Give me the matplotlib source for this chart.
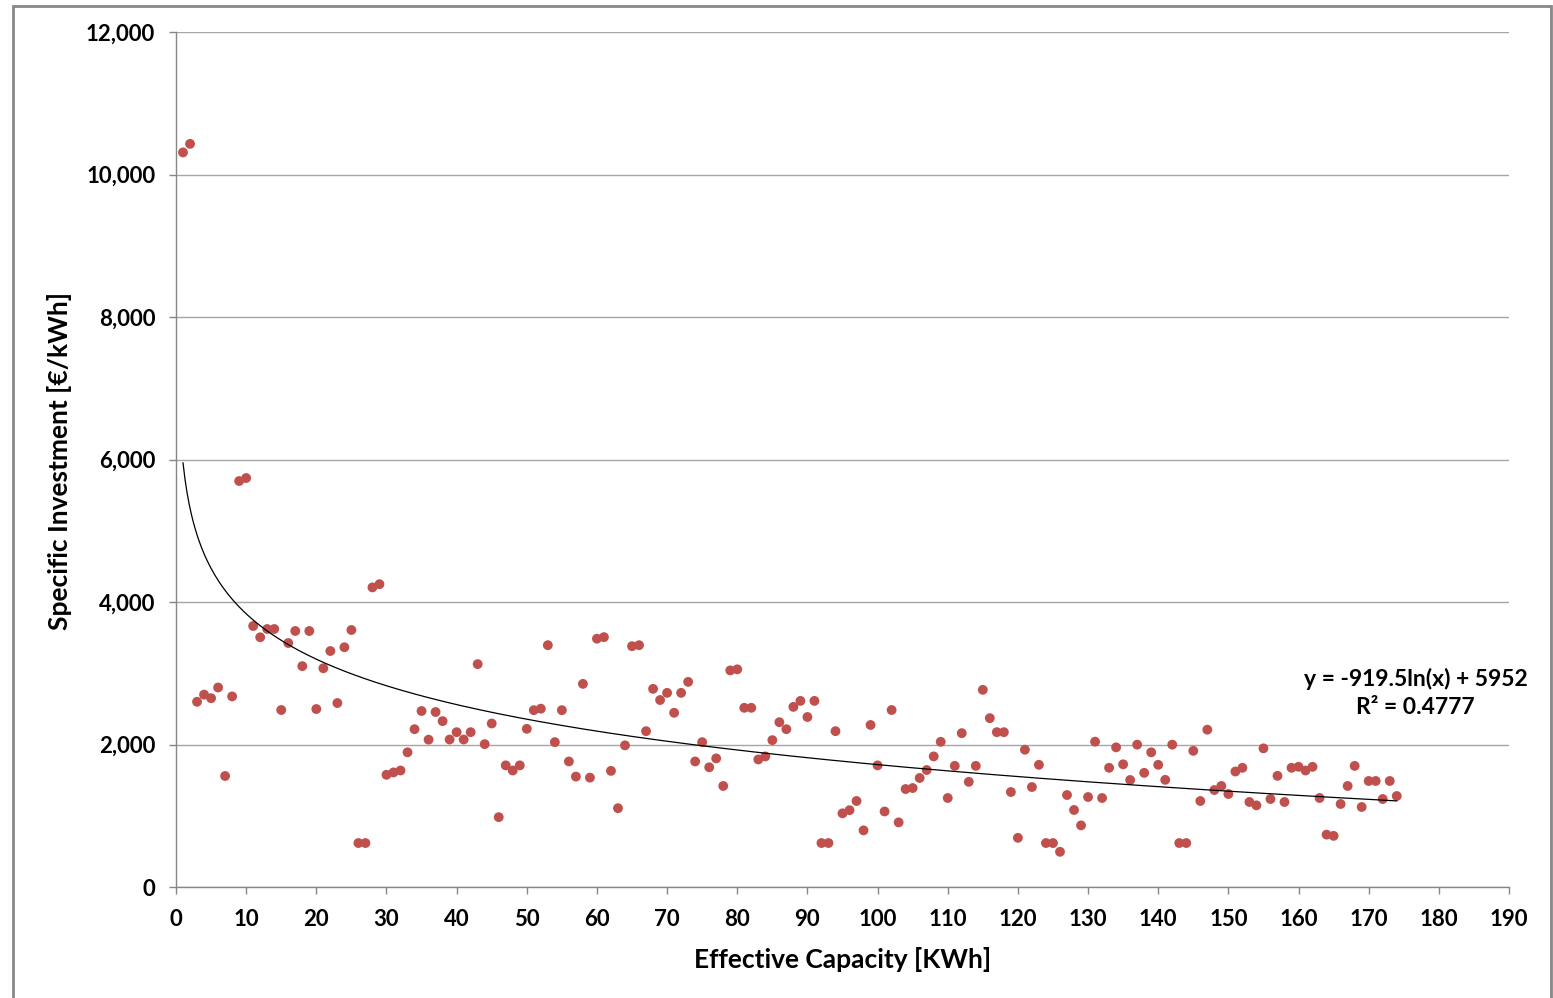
import numpy as np
import matplotlib
matplotlib.use("Agg")
import matplotlib.pyplot as plt
from matplotlib.patches import Rectangle
from matplotlib.ticker import FuncFormatter, MultipleLocator

# ---- data ----
capacity = list(range(1, 175))
specific_investment = [
    10310, 10430, 2600, 2700, 2650, 2800, 1558, 2675, 5698, 5740,
    3663, 3505, 3621, 3621, 2484, 3424, 3593, 3100, 3593, 2498,
    3070, 3312, 2582, 3365, 3607, 617, 617, 4205, 4250, 1575,
    1608, 1635, 1890, 2215, 2470, 2068, 2456, 2328, 2070, 2173,
    2070, 2173, 3128, 2005, 2295, 980, 1707, 1635, 1707, 2220,
    2482, 2503, 3394, 2033, 2482, 1762, 1550, 2851, 1535, 3485,
    3507, 1630, 1106, 1988, 3380, 3394, 2187, 2781, 2624, 2725,
    2445, 2725, 2879, 1762, 2033, 1680, 1805, 1418, 3040, 3055,
    2515, 2515, 1790, 1833, 2061, 2313, 2215, 2528, 2612, 2386,
    2612, 617, 617, 2187, 1034, 1078, 1207, 795, 2274, 1707,
    1060, 2484, 907, 1375, 1389, 1530, 1642, 1833, 2038, 1249,
    1700, 2159, 1476, 1700, 2767, 2370, 2173, 2173, 1333, 690,
    1927, 1403, 1715, 617, 617, 494, 1291, 1081, 865, 1263,
    2040, 1249, 1673, 1960, 1722, 1502, 1998, 1602, 1890, 1715,
    1504, 1998, 617, 617, 1911, 1207, 2208, 1361, 1418, 1305,
    1621, 1673, 1193, 1146, 1946, 1235, 1560, 1193, 1673, 1687,
    1635, 1687, 1249, 735, 718, 1165, 1418, 1700, 1123, 1488,
    1488, 1235, 1488, 1277,
]
trend_a = -919.5
trend_b = 5952
trend_label = "y = -919.5ln(x) + 5952\nR² = 0.4777"
x_label = "Effective Capacity [KWh]"
y_label = "Specific Investment [€/kWh]"

W, H = 1553, 998
fig = plt.figure(figsize=(W / 100, H / 100), dpi=100)
ax = fig.add_axes([176 / W, 1 - 887 / H, (1509 - 176) / W, (887 - 32) / H])

point_color = "#C0504D"
ax.scatter(capacity, specific_investment, s=50, color=point_color,
           edgecolors="none", zorder=3)

xt = np.linspace(min(capacity), max(capacity), 600)
ax.plot(xt, trend_a * np.log(xt) + trend_b, color="black", lw=0.9, zorder=4)

ax.set_xlim(0, 190)
ax.set_ylim(0, 12000)
ax.xaxis.set_major_locator(MultipleLocator(10))
ax.yaxis.set_major_locator(MultipleLocator(2000))
ax.yaxis.set_major_formatter(FuncFormatter(lambda v, p: f"{int(v):,}"))

ax.grid(axis="y", color="#A6A6A6", lw=1.0)
ax.set_axisbelow(True)
for s in ["top", "right"]:
    ax.spines[s].set_visible(False)
for s in ["left", "bottom"]:
    ax.spines[s].set_color("#868686")
    ax.spines[s].set_linewidth(1.0)
ax.tick_params(axis="both", length=5, width=1.0, color="#868686",
               labelsize=16)
ax.tick_params(axis="y", pad=10)
ax.tick_params(axis="x", pad=11)
for lab in ax.get_xticklabels() + ax.get_yticklabels():
    lab.set_fontfamily("Lato")
    lab.set_fontweight("bold")

ax.set_xlabel(x_label, fontfamily="Lato", fontweight="bold", fontsize=19,
              va="center")
ax.set_ylabel(y_label, fontfamily="Lato", fontweight="bold", fontsize=19,
              va="center")
ax.xaxis.set_label_coords((843 - 176) / 1333, (887 - 960) / 855)
ax.yaxis.set_label_coords((60 - 176) / 1333, (887 - 461) / 855)

ax.text(0.930, 0.227, trend_label, transform=ax.transAxes,
        ha="center", va="center", fontfamily="Lato", fontweight="bold",
        fontsize=16.5, linespacing=1.45)

# figure border
fig.patches.append(Rectangle((13 / W, -0.01), (1551 - 13) / W, 1 - 6 / H + 0.01,
                             transform=fig.transFigure, fill=False,
                             edgecolor="#888888", lw=2))

fig.savefig("out.png", dpi=100)
